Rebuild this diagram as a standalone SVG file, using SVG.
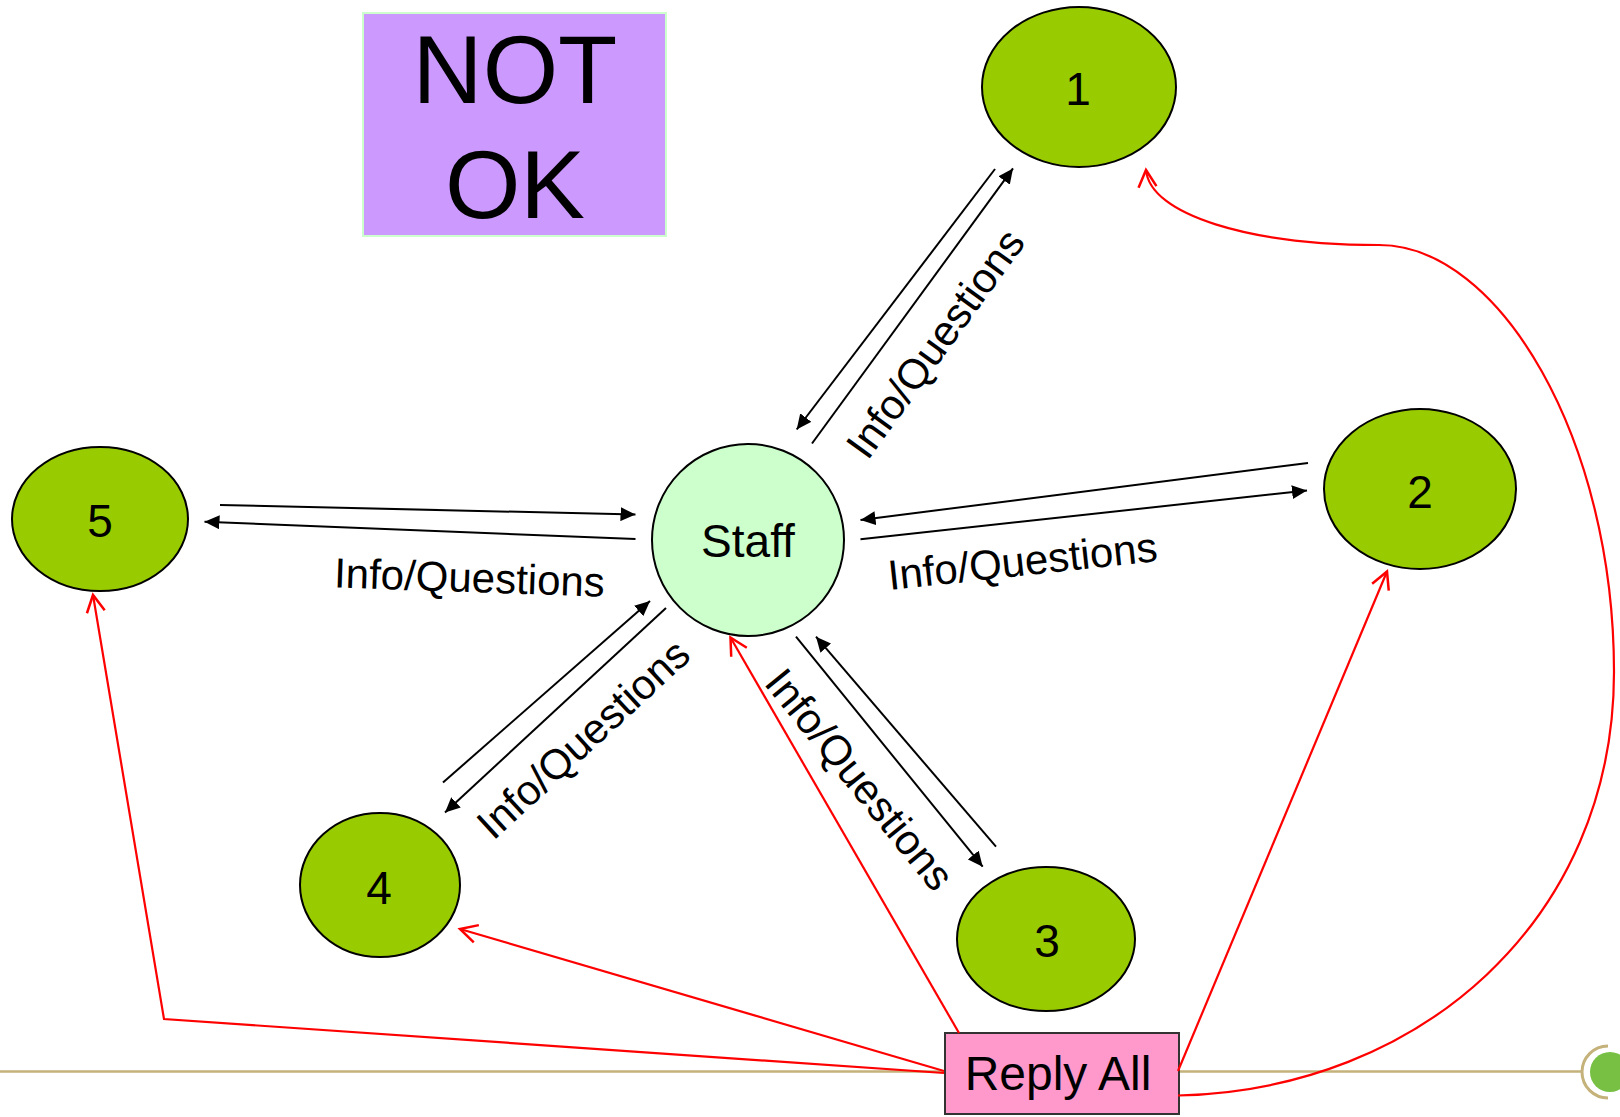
<svg xmlns="http://www.w3.org/2000/svg" width="1620" height="1117" viewBox="0 0 1620 1117">
  <style>
    text { font-family: "Liberation Sans", Arial, sans-serif; fill: #000; }
    .num { font-size: 46px; text-anchor: middle; }
    .lbl { font-size: 42px; text-anchor: middle; }
    .green { fill: #99CC00; stroke: #000; stroke-width: 2; }
    .blk { fill: none; stroke: #000; stroke-width: 2; marker-end: url(#arrB); }
    .red { fill: none; stroke: #FF0000; stroke-width: 2.2; marker-end: url(#arrR); }
  </style>
  <defs>
    <marker id="arrB" viewBox="0 0 15 14" refX="15" refY="7" markerWidth="15" markerHeight="14" markerUnits="userSpaceOnUse" orient="auto">
      <path d="M0,0 L15,7 L0,14 z" fill="#000"/>
    </marker>
    <marker id="arrR" viewBox="-2 -2 22 22" refX="17" refY="9" markerWidth="22" markerHeight="22" markerUnits="userSpaceOnUse" orient="auto" overflow="visible">
      <path d="M0,0 L17,9 L0,18" fill="none" stroke="#FF0000" stroke-width="2.5"/>
    </marker>
  </defs>
  <rect x="0" y="0" width="1620" height="1117" fill="#FFFFFF"/>

  <g id="decoration">
    <line x1="0" y1="1071.5" x2="1583" y2="1071.5" stroke="#C4B27A" stroke-width="2.5"/>
    <path d="M1608,1046 A26,26 0 0 0 1608,1098" fill="none" stroke="#C4B27A" stroke-width="3"/>
    <circle cx="1610" cy="1072" r="20" fill="#77C043"/>
  </g>

  <g id="not-ok">
    <rect x="363" y="13" width="303" height="223" fill="#CC99FF" stroke="#CCFFCC" stroke-width="2"/>
    <text x="515" y="103" font-size="97" text-anchor="middle">NOT</text>
    <text x="515" y="218" font-size="97" text-anchor="middle">OK</text>
  </g>

  <g id="node-staff">
    <circle cx="748" cy="540" r="96" fill="#CCFFCC" stroke="#000" stroke-width="2"/>
    <text x="748" y="557" class="num">Staff</text>
  </g>
  <g id="node-1">
    <ellipse cx="1079" cy="87" rx="97" ry="80" class="green"/>
    <text x="1078" y="105" class="num">1</text>
  </g>
  <g id="node-2">
    <ellipse cx="1420" cy="489" rx="96" ry="80" class="green"/>
    <text x="1420" y="508" class="num">2</text>
  </g>
  <g id="node-3">
    <ellipse cx="1046" cy="939" rx="89" ry="72" class="green"/>
    <text x="1047" y="957" class="num">3</text>
  </g>
  <g id="node-4">
    <ellipse cx="380" cy="885" rx="80" ry="72" class="green"/>
    <text x="379" y="904" class="num">4</text>
  </g>
  <g id="node-5">
    <ellipse cx="100" cy="519" rx="88" ry="72" class="green"/>
    <text x="100" y="537" class="num">5</text>
  </g>
  <g id="node-reply-all">
    <rect x="945" y="1033" width="234" height="81" fill="#FF99CC" stroke="#333333" stroke-width="2"/>
    <text x="1058" y="1090" font-size="48" text-anchor="middle">Reply All</text>
  </g>

  <g id="connectors">
    <!-- Staff <-> 1 -->
    <path class="blk" d="M995,169 L796.7,429.5"/>
    <path class="blk" d="M812,443.5 L1013,168.4"/>
    <!-- Staff <-> 2 -->
    <path class="blk" d="M1308,463 L860.5,520"/>
    <path class="blk" d="M860.5,539.3 L1307,490.5"/>
    <!-- Staff <-> 3 -->
    <path class="blk" d="M796,636.7 L982.7,866.7"/>
    <path class="blk" d="M996,846.7 L816,636.7"/>
    <!-- Staff <-> 4 -->
    <path class="blk" d="M443,782.5 L650,601"/>
    <path class="blk" d="M666,608 L445,812.5"/>
    <!-- Staff <-> 5 -->
    <path class="blk" d="M220,505 L635.5,514.5"/>
    <path class="blk" d="M635.5,539 L204.5,521.7"/>

    <!-- Reply All connectors -->
    <path class="red" d="M959,1033 L730.5,637.5"/>
    <path class="red" d="M944,1071 L460,929"/>
    <path class="red" d="M944,1073 L164,1019 L93,595"/>
    <path class="red" d="M1178,1071 L1387,571.5"/>
    <path class="red" d="M1178,1095.5 C1420,1090 1614,920 1614,672 C1614,440 1500,245 1379,245 C1250,245 1150,215 1146,170"/>
  </g>

  <g id="labels">
    <text class="lbl" transform="translate(947,352) rotate(-54)">Info/Questions</text>
    <text class="lbl" transform="translate(1024,575.5) rotate(-6.2)">Info/Questions</text>
    <text class="lbl" transform="translate(848.5,788.5) rotate(50.9)">Info/Questions</text>
    <text class="lbl" transform="translate(593,749.5) rotate(-42.6)">Info/Questions</text>
    <text class="lbl" transform="translate(469,592) rotate(2)">Info/Questions</text>
  </g>
</svg>
